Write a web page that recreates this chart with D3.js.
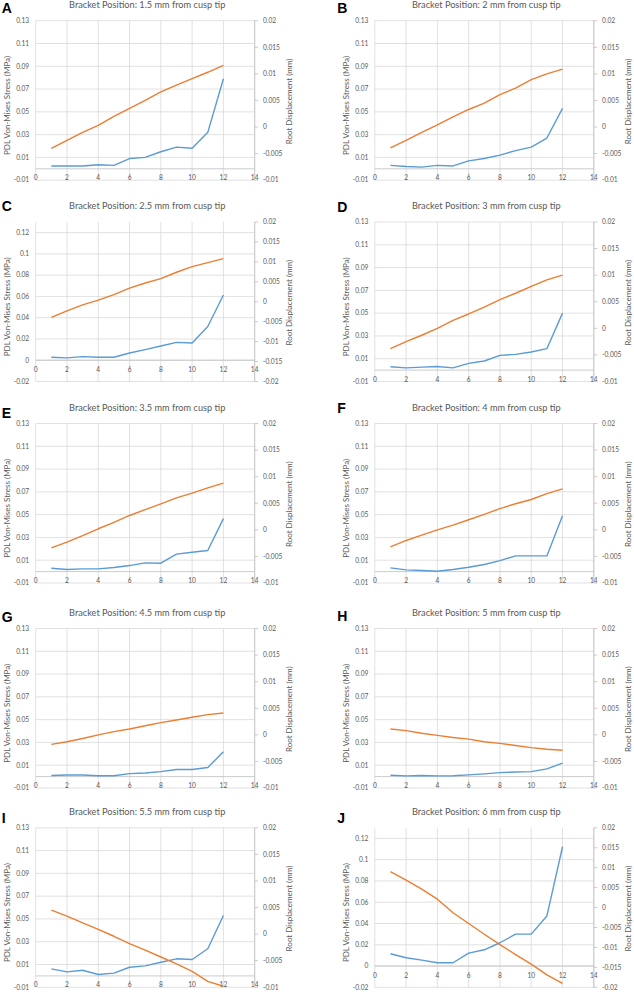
<!DOCTYPE html>
<html>
<head>
<meta charset="utf-8">
<script src="https://cdn.jsdelivr.net/npm/d3@7"></script>
<style>
  body { margin: 0; background: #fff; }
  svg { display: block; }
</style>
</head>
<body>
<svg id="chart"></svg>
<script>
// load step, 1..12
const steps = [1, 2, 3, 4, 5, 6, 7, 8, 9, 10, 11, 12];

// PDL Von-Mises stress (MPa), left axis
const stressA = [0.0025, 0.0025, 0.0025, 0.0035, 0.003, 0.009, 0.010, 0.015, 0.019, 0.018, 0.032, 0.079];
const stressB = [0.003, 0.002, 0.0015, 0.003, 0.0025, 0.007, 0.009, 0.012, 0.016, 0.019, 0.027, 0.053];
const stressC = [0.0028, 0.0022, 0.0034, 0.0028, 0.0028, 0.0068, 0.010, 0.0134, 0.0168, 0.0162, 0.0317, 0.0613];
const stressD = [0.0029, 0.002, 0.0026, 0.0032, 0.002, 0.0059, 0.008, 0.0129, 0.0138, 0.0159, 0.0188, 0.050];
const stressE = [0.003, 0.0018, 0.0024, 0.0024, 0.0036, 0.0053, 0.0077, 0.0074, 0.0153, 0.017, 0.0185, 0.0465];
const stressF = [0.0033, 0.0015, 0.001, 0.0003, 0.0018, 0.0038, 0.0062, 0.0097, 0.0138, 0.0138, 0.0138, 0.049];
const stressG = [0.001, 0.0014, 0.0014, 0.0008, 0.0008, 0.0026, 0.0032, 0.0044, 0.0062, 0.0062, 0.008, 0.0218];
const stressH = [0.0012, 0.0006, 0.001, 0.0006, 0.0008, 0.0015, 0.0024, 0.0035, 0.0041, 0.0044, 0.0068, 0.0118];
const stressI = [0.0062, 0.0035, 0.005, 0.0012, 0.0024, 0.0076, 0.0088, 0.012, 0.015, 0.0144, 0.0238, 0.053];
const stressJ = [0.0116, 0.0078, 0.0056, 0.0031, 0.0031, 0.0122, 0.0153, 0.0219, 0.030, 0.030, 0.047, 0.1122];

// root displacement (mm), right axis
const dispA = [-0.004, -0.0025, -0.001, 0.0003, 0.002, 0.0035, 0.005, 0.0066, 0.0079, 0.0091, 0.0103, 0.0116];
const dispB = [-0.0039, -0.0025, -0.001, 0.0004, 0.0019, 0.0033, 0.0045, 0.0061, 0.0073, 0.0089, 0.010, 0.0109];
const dispC = [-0.0039, -0.0023, -0.0008, 0.0004, 0.0018, 0.0034, 0.0047, 0.0058, 0.0074, 0.0088, 0.0098, 0.0108];
const dispD = [-0.0038, -0.0025, -0.0013, 0.0, 0.0015, 0.0027, 0.004, 0.0054, 0.0066, 0.0079, 0.0091, 0.010];
const dispE = [-0.0034, -0.0023, -0.0011, 0.0002, 0.0014, 0.0027, 0.0038, 0.0049, 0.006, 0.0069, 0.0079, 0.0088];
const dispF = [-0.0032, -0.002, -0.001, 0.0, 0.0009, 0.0019, 0.0029, 0.004, 0.0049, 0.0057, 0.0068, 0.0077];
const dispG = [-0.0018, -0.0013, -0.0007, 0.0, 0.0006, 0.0011, 0.0017, 0.0023, 0.0028, 0.0033, 0.0038, 0.0041];
const dispH = [0.0011, 0.0008, 0.0003, -0.0001, -0.0005, -0.0008, -0.0013, -0.0016, -0.002, -0.0024, -0.0027, -0.0029];
const dispI = [0.0045, 0.0034, 0.0021, 0.0009, -0.0004, -0.0018, -0.003, -0.0043, -0.0056, -0.007, -0.0089, -0.0098];
const dispJ = [0.009, 0.0069, 0.0046, 0.0021, -0.0013, -0.004, -0.0067, -0.0093, -0.0118, -0.0142, -0.0169, -0.019];

const panelLetters = ["A", "B", "C", "D", "E", "F", "G", "H", "I", "J"];
const panelTitles = [
    "Bracket Position: 1.5 mm from cusp tip",
    "Bracket Position: 2 mm from cusp tip",
    "Bracket Position: 2.5 mm from cusp tip",
    "Bracket Position: 3 mm from cusp tip",
    "Bracket Position: 3.5 mm from cusp tip",
    "Bracket Position: 4 mm from cusp tip",
    "Bracket Position: 4.5 mm from cusp tip",
    "Bracket Position: 5 mm from cusp tip",
    "Bracket Position: 5.5 mm from cusp tip",
    "Bracket Position: 6 mm from cusp tip"
];

// axis ticks
const xTicks = [0, 2, 4, 6, 8, 10, 12, 14];
const stressTicksNarrow = [-0.01, 0.01, 0.03, 0.05, 0.07, 0.09, 0.11, 0.13];
const stressTicksWide = [-0.02, 0, 0.02, 0.04, 0.06, 0.08, 0.1, 0.12];
const dispTicksNarrow = [-0.01, -0.005, 0, 0.005, 0.01, 0.015, 0.02];
const dispTicksWide = [-0.02, -0.015, -0.01, -0.005, 0, 0.005, 0.01, 0.015, 0.02];

const leftTitle = "PDL Von-Mises Stress (MPa)";
const rightTitle = "Root Displacement (mm)";

const stressSeries = [stressA, stressB, stressC, stressD, stressE, stressF, stressG, stressH, stressI, stressJ];
const dispSeries = [dispA, dispB, dispC, dispD, dispE, dispF, dispG, dispH, dispI, dispJ];
const widePanels = ["C", "J"]; // these use -0.02 .. 0.13 / -0.02 .. 0.02

// layout
const width = 634, height = 992;
const colLeft = [35.7, 374.8];
const rowTop = [20.7, 222, 423.5, 628.5, 827.8];
const letterDx = [-34, -37.5];
const letterDy = [-7.4, -8, -11.3, -10, -6, -10.6, -6.6, -7.3, -5, -5];
const plotW = 219, plotH = 159.5;

const blue = "#5B9BD5", orange = "#ED7D31";
const gridColor = "#D9D9D9", axisColor = "#BFBFBF", textColor = "#595959";
const font = "Lato, 'Open Sans', sans-serif";

const fmt = v => String(+v.toFixed(3));

const svg = d3.select("#chart")
    .attr("width", width)
    .attr("height", height);

panelLetters.forEach((letter, i) => {
    const col = i % 2, row = Math.floor(i / 2);
    const wide = widePanels.includes(letter);
    const g = svg.append("g")
        .attr("transform", `translate(${colLeft[col]},${rowTop[row]})`);

    const x = d3.scaleLinear().domain([0, 14]).range([0, plotW]);
    const yL = d3.scaleLinear().domain(wide ? [-0.02, 0.13] : [-0.01, 0.13]).range([plotH, 0]);
    const yR = d3.scaleLinear().domain(wide ? [-0.02, 0.02] : [-0.01, 0.02]).range([plotH, 0]);
    const lTicks = wide ? stressTicksWide : stressTicksNarrow;
    const rTicks = wide ? dispTicksWide : dispTicksNarrow;

    // gridlines
    g.append("g").selectAll("line.h")
        .data(lTicks)
        .join("line")
        .attr("x1", 0).attr("x2", plotW)
        .attr("y1", d => yL(d)).attr("y2", d => yL(d))
        .attr("stroke", gridColor).attr("stroke-width", 0.8);
    g.append("g").selectAll("line.v")
        .data(xTicks)
        .join("line")
        .attr("x1", d => x(d)).attr("x2", d => x(d))
        .attr("y1", 0).attr("y2", plotH)
        .attr("stroke", gridColor).attr("stroke-width", 0.8);

    // horizontal axis crosses at 0
    g.append("line")
        .attr("x1", 0).attr("x2", plotW)
        .attr("y1", yL(0)).attr("y2", yL(0))
        .attr("stroke", axisColor).attr("stroke-width", 0.8);
    g.append("g").selectAll("text")
        .data(xTicks)
        .join("text")
        .attr("x", d => x(d))
        .attr("y", yL(0) + 11.5)
        .attr("text-anchor", "middle")
        .attr("font-family", font).attr("font-size", "6.6px")
        .attr("fill", textColor)
        .text(d => d);

    // left axis labels
    g.append("g").selectAll("text")
        .data(lTicks)
        .join("text")
        .attr("x", -6.5)
        .attr("y", d => yL(d) + 2.3)
        .attr("text-anchor", "end")
        .attr("font-family", font).attr("font-size", "6.6px")
        .attr("fill", textColor)
        .text(fmt);

    // right axis with outside ticks
    const rAxis = g.append("g").attr("transform", `translate(${plotW},0)`);
    rAxis.append("line")
        .attr("y1", 0).attr("y2", plotH)
        .attr("stroke", axisColor).attr("stroke-width", 0.8);
    rAxis.selectAll("line.tick")
        .data(rTicks)
        .join("line")
        .attr("class", "tick")
        .attr("x1", 0).attr("x2", 3.5)
        .attr("y1", d => yR(d)).attr("y2", d => yR(d))
        .attr("stroke", axisColor).attr("stroke-width", 0.8);
    rAxis.selectAll("text")
        .data(rTicks)
        .join("text")
        .attr("x", 8.3)
        .attr("y", d => yR(d) + 2.3)
        .attr("font-family", font).attr("font-size", "6.6px")
        .attr("fill", textColor)
        .text(fmt);

    // axis titles
    g.append("text")
        .attr("transform", `translate(-29,${plotH / 2 + 5}) rotate(-90)`)
        .attr("text-anchor", "middle")
        .attr("dy", "0.35em")
        .attr("font-family", font).attr("font-size", "8px")
        .attr("fill", textColor)
        .text(leftTitle);
    g.append("text")
        .attr("transform", `translate(${plotW + 34.7},${plotH / 2 + 1}) rotate(-90)`)
        .attr("text-anchor", "middle")
        .attr("dy", "0.35em")
        .attr("font-family", font).attr("font-size", "8px")
        .attr("fill", textColor)
        .text(rightTitle);

    // chart title and panel letter
    g.append("text")
        .attr("x", plotW / 2 + 2)
        .attr("y", -13)
        .attr("text-anchor", "middle")
        .attr("font-family", font).attr("font-size", "9.2px")
        .attr("fill", textColor)
        .text(panelTitles[i]);
    g.append("text")
        .attr("x", letterDx[col])
        .attr("y", letterDy[i])
        .attr("font-family", "'Liberation Sans', Arial, sans-serif")
        .attr("font-weight", "bold")
        .attr("font-size", "14px")
        .attr("fill", "#000")
        .text(letter);

    // series
    const stressLine = d3.line()
        .x((d, j) => x(steps[j]))
        .y(d => yL(d));
    const dispLine = d3.line()
        .x((d, j) => x(steps[j]))
        .y(d => yR(d));

    g.append("path")
        .datum(stressSeries[i])
        .attr("d", stressLine)
        .attr("fill", "none")
        .attr("stroke", blue)
        .attr("stroke-width", 1.4)
        .attr("stroke-linejoin", "round");
    g.append("path")
        .datum(dispSeries[i])
        .attr("d", dispLine)
        .attr("fill", "none")
        .attr("stroke", orange)
        .attr("stroke-width", 1.4)
        .attr("stroke-linejoin", "round");
});
</script>
</body>
</html>
